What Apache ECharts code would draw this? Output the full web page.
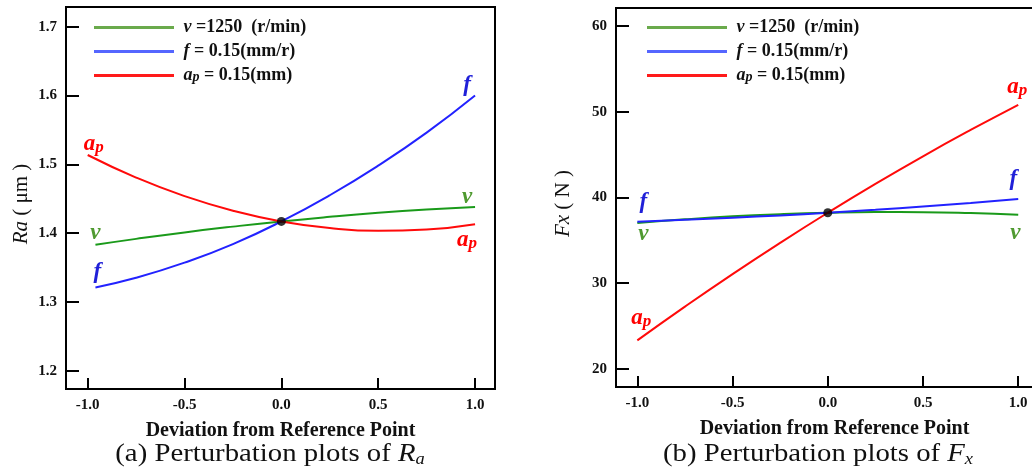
<!DOCTYPE html>
<html><head><meta charset="utf-8">
<script src="https://cdn.jsdelivr.net/npm/echarts@6/dist/echarts.min.js"></script>
<style>html,body{margin:0;padding:0;background:#fff}#c{width:1032px;height:472px}</style>
</head><body><div id="c"></div>
<script>
// ---- data ----
const xTicks = [-1.0, -0.5, 0.0, 0.5, 1.0];
const raTicks = [1.2, 1.3, 1.4, 1.5, 1.6, 1.7];
const fxTicks = [20, 30, 40, 50, 60];
const seriesNames = ['v', 'f', 'ap'];
const xsShort = [-0.96, -0.75, -0.5, -0.25, 0, 0.25, 0.5, 0.75, 1.0];
const xsFull = [-1.0, -0.75, -0.5, -0.25, 0, 0.25, 0.5, 0.75, 1.0];
const raV = [1.383, 1.3916, 1.401, 1.4094, 1.417, 1.4236, 1.4294, 1.4342, 1.438];
const raF = [1.321, 1.335, 1.357, 1.384, 1.417, 1.455, 1.498, 1.546, 1.600];
const raAp = [1.5135, 1.4807, 1.4537, 1.4325, 1.417, 1.4073, 1.4033, 1.4051, 1.4127];
const fxV = [37.0, 37.43, 37.78, 38.03, 38.2, 38.28, 38.27, 38.17, 37.98];
const fxF = [37.15, 37.39, 37.63, 37.89, 38.2, 38.54, 38.93, 39.34, 39.8];
const fxAp = [23.3, 27.24, 31.04, 34.69, 38.2, 41.57, 44.79, 47.86, 50.8];
const raRef = 1.417;
const fxRef = 38.2;

// ---- styles ----
const SERIF = '"Liberation Serif", "Times New Roman", serif';
const COL = { v: '#1a9a1a', f: '#2222ff', ap: '#ff0a0a' };
const LEG_COL = { v: '#6aaa4c', f: '#5566ff', ap: '#ff1a1a' };
const LBL_COL = { v: '#4f9a30', f: '#2020d8', ap: '#ff0000' };
const lblText = { v: '{i|v}', f: '{i|f}', ap: '{i|a}{s|p}' };
const lblRich = {
  i: { fontFamily: SERIF, fontStyle: 'italic', fontWeight: 'bold', fontSize: 23 },
  s: { fontFamily: SERIF, fontStyle: 'italic', fontWeight: 'bold', fontSize: 17, padding: [7, 0, 0, 0] }
};

function mkSeries(name, xs, ys, idx, startOff, endOff) {
  const data = xs.map((x, i) => {
    const item = { value: [x, ys[i]] };
    const off = i === 0 ? startOff : (i === xs.length - 1 ? endOff : null);
    if (off) {
      item.label = {
        show: true, position: 'inside', offset: off,
        formatter: lblText[name], color: LBL_COL[name],
        rich: {
          i: Object.assign({}, lblRich.i, { color: LBL_COL[name] }),
          s: Object.assign({}, lblRich.s, { color: LBL_COL[name] })
        }
      };
    }
    return item;
  });
  return {
    name: name, type: 'line', xAxisIndex: idx, yAxisIndex: idx,
    data: data, smooth: true, symbol: 'circle', symbolSize: 0, showAllSymbol: true,
    lineStyle: { color: COL[name], width: 2 }, itemStyle: { color: COL[name] },
    label: { show: false }, emphasis: { disabled: true }, z: 3
  };
}

function mkX(idx) {
  return {
    type: 'value', gridIndex: idx, min: -1.112, max: idx === 0 ? 1.103 : 1.109,
    splitLine: { show: false },
    axisLine: { show: true, onZero: false, lineStyle: { color: '#000', width: 2 } },
    axisTick: { show: true, inside: true, length: 11, customValues: xTicks, lineStyle: { color: '#000', width: 2 } },
    axisLabel: { customValues: xTicks, formatter: v => v.toFixed(1), margin: 9,
      fontFamily: SERIF, fontWeight: 'bold', fontSize: 15, color: '#111' },
    name: 'Deviation from Reference Point', nameLocation: 'middle', nameGap: 32,
    nameTextStyle: { fontFamily: SERIF, fontWeight: 'bold', fontSize: 20, color: '#111',
      padding: idx === 1 ? [0, 0, 0, 14] : 0 }
  };
}
function mkY(idx, min, max, ticks, fmt, name, gap) {
  return {
    type: 'value', gridIndex: idx, min: min, max: max,
    splitLine: { show: false },
    axisLine: { show: true, onZero: false, lineStyle: { color: '#000', width: 2 } },
    axisTick: { show: true, inside: true, length: 13, customValues: ticks, lineStyle: { color: '#000', width: 2 } },
    axisLabel: { customValues: ticks, formatter: fmt, margin: 9,
      fontFamily: SERIF, fontWeight: 'bold', fontSize: 15, color: '#111' },
    name: name, nameLocation: 'middle', nameGap: gap, nameRotate: 90,
    nameTextStyle: { fontFamily: SERIF, fontSize: 21, color: '#111', padding: [0, 12, 0, 0],
      rich: { i: { fontFamily: SERIF, fontStyle: 'italic', fontSize: 21, color: '#111' } } }
  };
}

function legendFmt(name) {
  if (name === 'v') return ' {i|v}{t| =1250  (r/min)}';
  if (name === 'f') return ' {i|f}{t| = 0.15(mm/r)}';
  return ' {i|a}{s|p}{t| = 0.15(mm)}';
}
function mkLegend(left) {
  return {
    orient: 'vertical', left: left, top: 18, padding: 0, itemWidth: 80, itemHeight: 3, itemGap: 5,
    icon: 'rect', selectedMode: false,
    data: seriesNames.map(n => ({ name: n, itemStyle: { color: LEG_COL[n] } })),
    formatter: legendFmt,
    textStyle: {
      fontFamily: SERIF, fontWeight: 'bold', fontSize: 18, color: '#111', lineHeight: 19,
      rich: {
        i: { fontFamily: SERIF, fontStyle: 'italic', fontWeight: 'bold', fontSize: 18, color: '#111', lineHeight: 19 },
        s: { fontFamily: SERIF, fontStyle: 'italic', fontWeight: 'bold', fontSize: 14, color: '#111', padding: [4, 0, 0, 0] },
        t: { fontFamily: SERIF, fontWeight: 'bold', fontSize: 18, color: '#111', lineHeight: 19 }
      }
    }
  };
}

const captionRich = {
  i: { fontFamily: SERIF, fontStyle: 'italic', fontSize: 25, fill: '#111' },
  s: { fontFamily: SERIF, fontStyle: 'italic', fontSize: 16, fill: '#111', padding: [11, 0, 0, 0] }
};

const chart = echarts.init(document.getElementById('c'), null, { renderer: 'canvas' });
chart.setOption({
  animation: false,
  backgroundColor: '#fff',
  grid: [
    { left: 66, top: 7, width: 429, height: 382, show: true, borderColor: '#000', borderWidth: 2,
      outerBoundsMode: 'none', containLabel: false },
    { left: 616, top: 8, width: 423, height: 379, show: true, borderColor: '#000', borderWidth: 2,
      outerBoundsMode: 'none', containLabel: false }
  ],
  xAxis: [mkX(0), mkX(1)],
  yAxis: [
    mkY(0, 1.1734, 1.7286, raTicks, v => v.toFixed(1), '{i|Ra} ( μm )', 34),
    mkY(1, 17.86, 62.1, fxTicks, v => String(Math.round(v)), '{i|Fx} ( N )', 42)
  ],
  legend: [mkLegend(94), mkLegend(647)],
  series: [
    mkSeries('v', xsShort, raV, 0, [0, -12], [-8, -10]),
    mkSeries('f', xsShort, raF, 0, [2, -15], [-8, -10]),
    mkSeries('ap', xsFull, raAp, 0, [6, -11], [-8, 16]),
    mkSeries('v', xsFull, fxV, 1, [6, 11], [-3, 18]),
    mkSeries('f', xsFull, fxF, 1, [6, -20], [-5, -20]),
    mkSeries('ap', xsFull, fxAp, 1, [4, -22], [-1, -18]),
    { type: 'scatter', xAxisIndex: 0, yAxisIndex: 0, data: [[0, raRef]], symbolSize: 9,
      itemStyle: { color: '#000' }, z: 5, emphasis: { disabled: true } },
    { type: 'scatter', xAxisIndex: 1, yAxisIndex: 1, data: [[0, fxRef]], symbolSize: 9,
      itemStyle: { color: '#000' }, z: 5, emphasis: { disabled: true } }
  ],
  graphic: [
    { type: 'text', x: 270, y: 454, scaleX: 1.15, style: { text: '(a) Perturbation plots of {i|R}{s|a}', align: 'center',
      verticalAlign: 'middle', fontFamily: SERIF, fontSize: 25, fill: '#111', rich: captionRich } },
    { type: 'text', x: 818, y: 454, scaleX: 1.15, style: { text: '(b) Perturbation plots of {i|F}{s|x}', align: 'center',
      verticalAlign: 'middle', fontFamily: SERIF, fontSize: 25, fill: '#111', rich: captionRich } }
  ]
});
</script></body></html>
